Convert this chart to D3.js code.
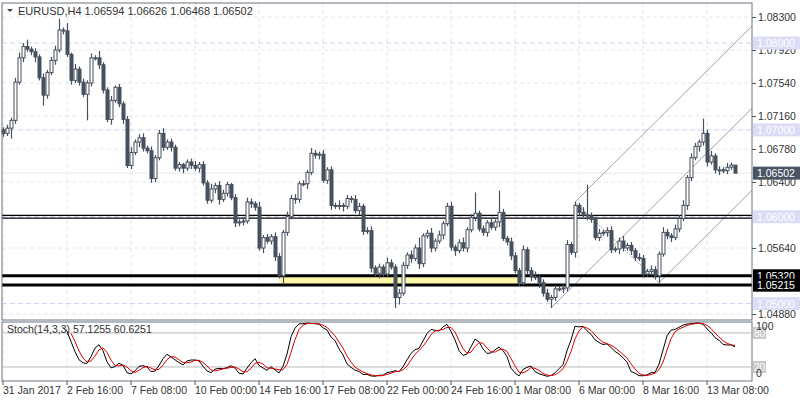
<!DOCTYPE html>
<html><head><meta charset="utf-8">
<script src="https://cdn.jsdelivr.net/npm/d3@7"></script>
<style>
body{margin:0;background:#fff;}
svg{display:block;font-family:"Liberation Sans",Arial,sans-serif;}
</style></head>
<body><svg id="chart" width="800" height="400"></svg>
<script>
// H4 closes, 31 Jan 2017 -> 13 Mar 2017
const closes = [
1.0696,1.0702,1.0711,1.0755,1.0783,1.0796,1.0793,1.0790,1.0784,1.0760,
1.0740,1.0766,1.0780,1.0792,1.0815,1.0814,1.0787,1.0757,1.0770,1.0755,
1.0741,1.0754,1.0783,1.0783,1.0775,1.0746,1.0712,1.0734,1.0749,1.0730,
1.0712,1.0659,1.0674,1.0686,1.0691,1.0679,1.0676,1.0644,1.0668,1.0696,
1.0680,1.0686,1.0680,1.0656,1.0660,1.0656,1.0663,1.0659,
1.0656,1.0660,1.0639,1.0619,1.0632,1.0636,1.0620,1.0627,1.0637,1.0622,
1.0593,1.0594,1.0595,1.0617,1.0615,1.0611,1.0564,1.0576,1.0572,1.0577,
1.0554,1.0532,1.0582,1.0600,1.0621,1.0620,1.0638,1.0638,1.0651,1.0673,
1.0671,1.0672,1.0642,1.0654,1.0613,1.0612,1.0613,1.0612,1.0621,1.0620,
1.0607,1.0612,1.0583,1.0584,1.0541,1.0535,1.0542,1.0534,1.0547,1.0542,
1.0507,1.0512,
1.0544,1.0556,1.0552,1.0564,1.0546,1.0578,1.0581,1.0564,1.0572,1.0579,
1.0592,1.0612,1.0565,1.0561,1.0570,1.0564,1.0585,1.0599,1.0604,1.0586,
1.0582,1.0593,1.0588,1.0594,1.0605,1.0575,1.0571,1.0555,1.0538,1.0524,
1.0562,1.0538,1.0531,1.0530,1.0524,1.0512,1.0505,1.0507,1.0517,1.0517,
1.0518,1.0568,1.0559,1.0613,
1.0605,1.0602,1.0601,1.0597,1.0576,1.0581,1.0582,1.0584,1.0562,1.0563,
1.0572,1.0564,1.0567,1.0561,1.0553,1.0552,1.0534,1.0537,1.0539,1.0532,
1.0557,1.0582,1.0578,1.0576,1.0586,1.0598,1.0613,1.0645,1.0668,1.0681,
1.0686,1.0696,1.0663,1.0670,1.0654,1.0654,1.0653,1.0657,1.06594,1.06502
];
// upper / lower wick lengths in pips
const upWick = [
3,4,3,5,6,4,8,3,4,3, 5,3,4,5,13,3,9,2,6,3, 4,3,5,3,8,3,3,5,2,4,
3,4,6,3,4,5,3,5,3,4, 6,3,4,3,3,2,3,4,5,3, 4,3,6,3,5,4,3,2,4,3,
3,5,4,3,6,3,4,3,5,4, 3,6,4,5,3,4,3,6,4,3, 5,3,4,3,6,3,4,3,5,4,
3,4,5,3,4,3,6,4,3,5, 4,3,5,4,12,3,4,6,3,5, 3,4,5,3,4,6,3,4,24,3,
4,3,5,3,25,4,3,5,4,3, 5,3,4,6,3,4,5,3,4,3, 4,5,3,4,3,6,35,4,3,5,
3,4,5,3,4,6,3,4,3,5, 4,3,5,4,3,6,4,3,5,4, 6,3,5,4,3,17,4,6,3,4,
3,5,3
];
const dnWick = [
4,3,12,4,3,5,3,4,6,3, 12,4,3,5,3,4,3,5,3,4, 3,30,4,3,5,4,3,6,3,4,
5,3,4,3,6,4,3,5,4,3, 4,3,5,3,4,6,3,4,3,5, 3,4,3,5,6,3,4,3,5,4,
4,3,5,4,3,6,3,4,5,3, 10,4,3,5,4,3,6,3,4,5, 3,4,5,3,4,6,3,4,3,5,
4,3,5,4,6,3,4,3,12,8, 3,4,5,3,6,4,3,5,4,3, 5,3,4,6,3,4,5,3,4,3,
4,5,3,4,6,3,4,5,3,4, 3,4,5,3,6,4,3,10,4,3, 5,4,3,6,4,3,5,4,3,4,
3,5,4,3,6,4,3,5,4,3, 4,3,5,4,8,3,4,5,3,4, 3,5,4,3,6,4,5,3,4,6,
3,4,3
];
const firstOpen = 1.0700;
const timeLabels = ["31 Jan 2017","2 Feb 16:00","7 Feb 08:00","10 Feb 00:00","14 Feb 16:00","17 Feb 08:00",
  "22 Feb 00:00","24 Feb 16:00","1 Mar 08:00","6 Mar 00:00","8 Mar 16:00","13 Mar 08:00"];
const priceTicks = [1.08300,1.07920,1.07540,1.07160,1.06780,1.06400,1.05640,1.04880];
const roundLevels = [1.08,1.07,1.06,1.05];
const srLevels = [1.05320,1.05215];
const doubleLevel = [1.06015,1.05985];
const zone = {from:69, to:129, hi:1.05320, lo:1.05215};
const fork = {a:137, b:143, c:164};

const svg = d3.select("#chart");
const PX0 = 3, STEP = 4, RIGHT = 752;

const candles = closes.map((c,i)=>{
  const o = i===0 ? firstOpen : closes[i-1];
  return {i, o, c, h: Math.max(o,c)+upWick[i]/10000, l: Math.min(o,c)-dnWick[i]/10000};
});
const n = candles.length;

const x = d3.scaleLinear().domain([0,n-1]).range([PX0, PX0+STEP*(n-1)]);
const y = d3.scaleLinear().domain([1.04880,1.08300]).range([314,17]);
const ys = d3.scaleLinear().domain([0,100]).range([378.3,321.6]);

const MAIN = {top:3, bot:320}, SUB = {top:322, bot:381};

// grid
const grid = svg.append("g").attr("stroke","#e6e6ee").attr("stroke-dasharray","4,3");
priceTicks.forEach(p=>grid.append("line").attr("x1",2).attr("x2",RIGHT).attr("y1",y(p)).attr("y2",y(p)));
timeLabels.forEach((t,k)=>{
  const xx = x(k*16);
  grid.append("line").attr("x1",xx).attr("x2",xx).attr("y1",MAIN.top).attr("y2",MAIN.bot);
  grid.append("line").attr("x1",xx).attr("x2",xx).attr("y1",SUB.top).attr("y2",SUB.bot);
});
// round levels
roundLevels.forEach(p=>svg.append("line").attr("x1",2).attr("x2",RIGHT).attr("y1",y(p)).attr("y2",y(p))
  .attr("stroke","#d0d0f0").attr("stroke-dasharray","5,3"));
// the 1.06502 last-price line
svg.append("line").attr("x1",2).attr("x2",RIGHT).attr("y1",y(1.06502)).attr("y2",y(1.06502)).attr("stroke","#e8e8e8");

// yellow zone
svg.append("rect").attr("x",x(zone.from)).attr("width",x(zone.to)-x(zone.from))
  .attr("y",y(zone.hi)).attr("height",y(zone.lo)-y(zone.hi)).attr("fill","#fdf7a8");

// pitchfork
const A = {i:fork.a, p:candles[fork.a].l}, B = {i:fork.b, p:candles[fork.b].h}, C = {i:fork.c, p:candles[fork.c].l};
const M = {i:(B.i+C.i)/2, p:(B.p+C.p)/2};
const slope = (M.p-A.p)/(M.i-A.i);
const endI = n+12;
const fg = svg.append("g").attr("stroke","#8a8a8a").attr("stroke-width",0.8).attr("fill","none");
svg.append("clipPath").attr("id","mc").append("rect").attr("x",2).attr("y",MAIN.top).attr("width",RIGHT-2).attr("height",MAIN.bot-MAIN.top);
fg.attr("clip-path","url(#mc)");
[A,B,C].forEach(P=>fg.append("line").attr("x1",x(P.i)).attr("y1",y(P.p))
  .attr("x2",x(endI)).attr("y2",y(P.p+slope*(endI-P.i))));
fg.append("line").attr("x1",x(B.i)).attr("y1",y(B.p)).attr("x2",x(C.i)).attr("y2",y(C.p)).attr("stroke-dasharray","2,1");

// S/R lines
doubleLevel.forEach(p=>svg.append("line").attr("x1",2).attr("x2",RIGHT).attr("y1",y(p)).attr("y2",y(p)).attr("stroke","#000").attr("stroke-width",1.2));
srLevels.forEach(p=>svg.append("line").attr("x1",2).attr("x2",RIGHT).attr("y1",y(p)).attr("y2",y(p)).attr("stroke","#000").attr("stroke-width",3));

// candles
const cg = svg.append("g");
const col = "#46505e";
cg.selectAll("line.w").data(candles).enter().append("line")
  .attr("x1",d=>x(d.i)+0.5).attr("x2",d=>x(d.i)+0.5).attr("y1",d=>y(d.h)).attr("y2",d=>y(d.l))
  .attr("stroke",col).attr("stroke-width",1.2);
cg.selectAll("rect").data(candles).enter().append("rect")
  .attr("x",d=>x(d.i)-1).attr("width",3)
  .attr("y",d=>y(Math.max(d.o,d.c))).attr("height",d=>Math.max(1,Math.abs(y(d.o)-y(d.c))))
  .attr("fill",d=>d.c>=d.o?"#fff":col).attr("stroke",col).attr("stroke-width",1);

// frames
svg.append("rect").attr("x",2).attr("y",MAIN.top).attr("width",RIGHT-2).attr("height",MAIN.bot-MAIN.top).attr("fill","none").attr("stroke","#6a7480");
svg.append("rect").attr("x",2).attr("y",SUB.top).attr("width",RIGHT-2).attr("height",SUB.bot-SUB.top).attr("fill","none").attr("stroke","#6a7480");

// price axis
const ax = svg.append("g").attr("transform",`translate(${RIGHT},0)`)
  .call(d3.axisRight(y).tickValues(priceTicks).tickFormat(d3.format(".5f")).tickSize(4));
ax.select(".domain").remove();
ax.selectAll("line").attr("stroke","#555");
ax.selectAll("text").attr("font-size",10.5).attr("fill","#333").attr("x",6).attr("font-family","Liberation Sans,Arial");

function badge(p, bg, fg, txt){
  const yy = y(p);
  svg.append("rect").attr("x",RIGHT+1).attr("y",yy-6.5).attr("width",47).attr("height",13).attr("fill",bg);
  svg.append("text").attr("x",RIGHT+5).attr("y",yy+4).attr("font-size",10.5).attr("fill",fg).text(txt);
}
roundLevels.forEach(p=>badge(p,"#dcdcf6","#fff",d3.format(".5f")(p)));
badge(1.06502,"#4a5563","#fff","1.06502");
badge(srLevels[0],"#000","#fff","1.05320");
badge(srLevels[1]-0.00003,"#000","#fff","1.05215");

// title
svg.append("path").attr("d","M7,9 L13,9 L10,12 Z").attr("fill","#444");
svg.append("text").attr("x",18).attr("y",15).attr("font-size",11).attr("fill","#333")
  .text("EURUSD,H4  1.06594 1.06626 1.06468 1.06502");

// stochastic (14,3,3)
const K = [], D = [];
const raw = candles.map((d,i)=>{
  if(i<13) return null;
  const win = candles.slice(i-13,i+1);
  const ll = d3.min(win,w=>w.l), hh = d3.max(win,w=>w.h);
  return {num:d.c-ll, den:hh-ll};
});
raw.forEach((r,i)=>{
  if(i<15){K.push(null);return;}
  const s = raw.slice(i-2,i+1);
  K.push(100*d3.sum(s,v=>v.num)/d3.sum(s,v=>v.den));
});
K.forEach((k,i)=>{ D.push(i<17?null:(K[i]+K[i-1]+K[i-2])/3); });
[80,20].forEach(v=>svg.append("line").attr("x1",2).attr("x2",RIGHT).attr("y1",ys(v)).attr("y2",ys(v)).attr("stroke","#b8b8b8"));
const ln = d3.line().defined(d=>d!=null).x((d,i)=>x(i)).y(d=>ys(d));
svg.append("path").attr("d",ln(K)).attr("fill","none").attr("stroke","#000").attr("stroke-width",1);
svg.append("path").attr("d",ln(D)).attr("fill","none").attr("stroke","#e00000").attr("stroke-width",1);
svg.append("text").attr("x",7).attr("y",333).attr("font-size",10.5).attr("fill","#333").text("Stoch(14,3,3) 57.1255 60.6251");
[[80,"80"],[20,"20"]].forEach(([v,t])=>{
  svg.append("rect").attr("x",RIGHT+1).attr("y",ys(v)-6).attr("width",13).attr("height",12).attr("fill","#c8c8c8");
  svg.append("text").attr("x",RIGHT+2).attr("y",ys(v)+4).attr("font-size",10).attr("fill","#fff").text(t);
});
svg.append("text").attr("x",RIGHT+4).attr("y",330).attr("font-size",10.5).attr("fill","#333").text("100");
svg.append("text").attr("x",RIGHT+4).attr("y",377).attr("font-size",10.5).attr("fill","#333").text("0");

// time axis
const tg = svg.append("g");
timeLabels.forEach((t,k)=>{
  const xx = x(k*16);
  tg.append("line").attr("x1",xx).attr("x2",xx).attr("y1",SUB.bot).attr("y2",SUB.bot+4).attr("stroke","#555");
  tg.append("text").attr("x",xx+(k===0?0:0)).attr("y",394).attr("font-size",10.5).attr("fill","#333").text(t);
});
</script></body></html>
